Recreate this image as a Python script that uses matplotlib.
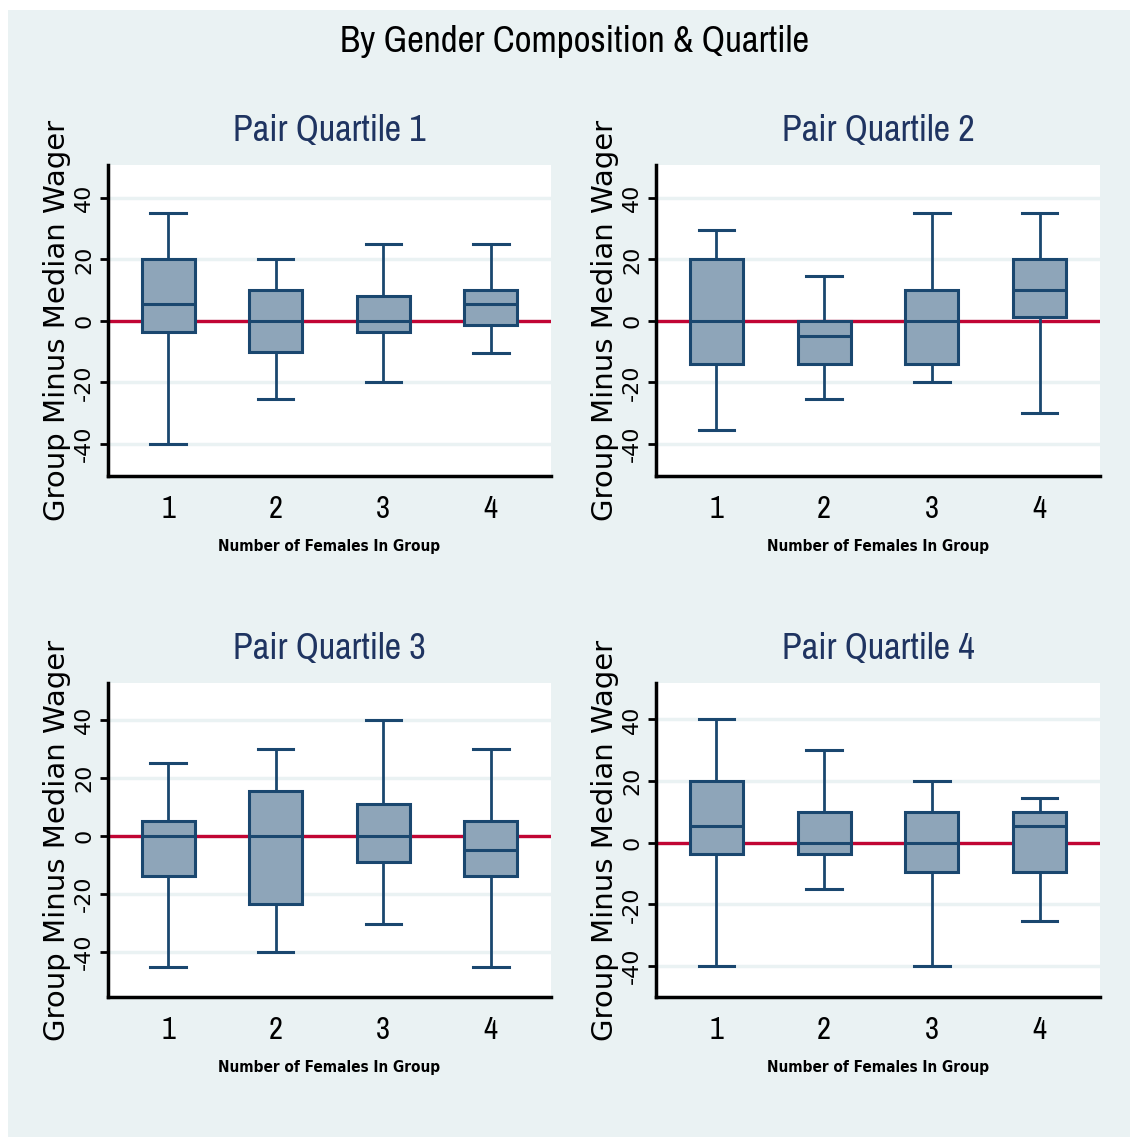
import matplotlib
matplotlib.use('Agg')
import matplotlib.pyplot as plt
from matplotlib.patches import Rectangle

# Stata風の細長い字体
NARROW = ['Archivo Narrow', 'DejaVu Sans']
WIDE = ['DejaVu Sans']

groups = [1, 2, 3, 4]
titles = ['Pair Quartile 1', 'Pair Quartile 2', 'Pair Quartile 3', 'Pair Quartile 4']

# 各四分位: 下ひげ, 第1四分位, 中央値, 第3四分位, 上ひげ (グループ 1..4)
pq1_lo = [-40, -25.5, -20, -10.5]
pq1_q1 = [-3.5, -10, -3.5, -1.2]
pq1_med = [5.5, 0, 0, 5.5]
pq1_q3 = [20, 10, 8, 10]
pq1_hi = [35, 20, 25, 25]

pq2_lo = [-35.5, -25.5, -20, -30]
pq2_q1 = [-14, -14, -14, 1.2]
pq2_med = [0, -5, 0, 10]
pq2_q3 = [20, 0, 10, 20]
pq2_hi = [29.5, 14.5, 35, 35]

pq3_lo = [-45, -40, -30.5, -45]
pq3_q1 = [-14, -23.5, -9, -14]
pq3_med = [0, 0, 0, -5]
pq3_q3 = [5, 15.5, 11, 5]
pq3_hi = [25, 30, 40, 30]

pq4_lo = [-40, -15, -40, -25.5]
pq4_q1 = [-3.5, -3.5, -9.5, -9.5]
pq4_med = [5.5, 0, 0, 5.5]
pq4_q3 = [20, 10, 10, 10]
pq4_hi = [40, 30, 20, 14.5]

panels = [
    (pq1_lo, pq1_q1, pq1_med, pq1_q3, pq1_hi),
    (pq2_lo, pq2_q1, pq2_med, pq2_q3, pq2_hi),
    (pq3_lo, pq3_q1, pq3_med, pq3_q3, pq3_hi),
    (pq4_lo, pq4_q1, pq4_med, pq4_q3, pq4_hi),
]
ylims = [(-50.4, 50.7), (-50.4, 50.7), (-55.5, 52.6), (-50.0, 51.8)]
yticks = [-40, -20, 0, 20, 40]

BG = '#EAF2F3'
NAVY = '#1A476F'
FILL = '#8EA5B9'
RED = '#C10534'

W, H = 1130, 1137
fig = plt.figure(figsize=(W / 100, H / 100), dpi=100, facecolor='white')
fig.add_artist(Rectangle((8 / W, 0), 1 - 8 / W, 1 - 10 / H, transform=fig.transFigure,
                         facecolor=BG, edgecolor='none', zorder=-10))

fig.text(575 / W, 1 - 41 / H, 'By Gender Composition & Quartile', ha='center', va='center',
         fontsize=26.5, family=NARROW, color='black')

# プロット領域 (左, 上, 右, 下) ピクセル
boxes_px = [(108, 165, 551, 476), (656, 165, 1100, 476),
            (108, 683, 551, 997), (656, 683, 1100, 997)]

for i, (lo, q1, med, q3, hi) in enumerate(panels):
    l, t, r, b = boxes_px[i]
    ax = fig.add_axes([l / W, 1 - b / H, (r - l) / W, (b - t) / H])
    ax.set_facecolor('white')

    stats = [dict(whislo=lo[k], q1=q1[k], med=med[k], q3=q3[k], whishi=hi[k], fliers=[])
             for k in range(len(groups))]
    ax.axhline(0, color=RED, lw=2.4, zorder=2)
    ax.bxp(stats, positions=groups, widths=0.49, capwidths=0.33, patch_artist=True,
           showfliers=False,
           boxprops=dict(facecolor=FILL, edgecolor=NAVY, linewidth=2.2),
           medianprops=dict(color=NAVY, linewidth=2.2),
           whiskerprops=dict(color=NAVY, linewidth=2.0),
           capprops=dict(color=NAVY, linewidth=2.2),
           zorder=3)

    ax.set_xlim(0.44, 4.56)
    ax.set_ylim(*ylims[i])
    ax.set_yticks(yticks)
    ax.set_yticklabels([str(v) for v in yticks], rotation=90, va='center',
                       fontsize=16, family=WIDE)
    ax.grid(True, axis='y', color=BG, linewidth=2.5, zorder=1)
    ax.set_axisbelow(True)
    ax.set_xticks(groups)
    ax.set_xticklabels([str(g) for g in groups], fontsize=22, family=NARROW)
    ax.tick_params(axis='x', length=0, pad=14)
    ax.tick_params(axis='y', length=6, width=2, color='black', pad=4)
    for s in ['top', 'right']:
        ax.spines[s].set_visible(False)
    for s in ['left', 'bottom']:
        ax.spines[s].set_linewidth(2.5)
        ax.spines[s].set_color('black')

    ax.set_title(titles[i], fontsize=26, family=NARROW, color='#1F3461', pad=17)
    ax.set_xlabel('Number of Females In Group', fontsize=11, family=WIDE,
                  fontstretch='condensed', fontweight='bold', labelpad=11)
    ax.set_ylabel('Group Minus Median Wager', fontsize=21, family=WIDE, labelpad=2)

fig.savefig('out.png', dpi=100, facecolor='white')
